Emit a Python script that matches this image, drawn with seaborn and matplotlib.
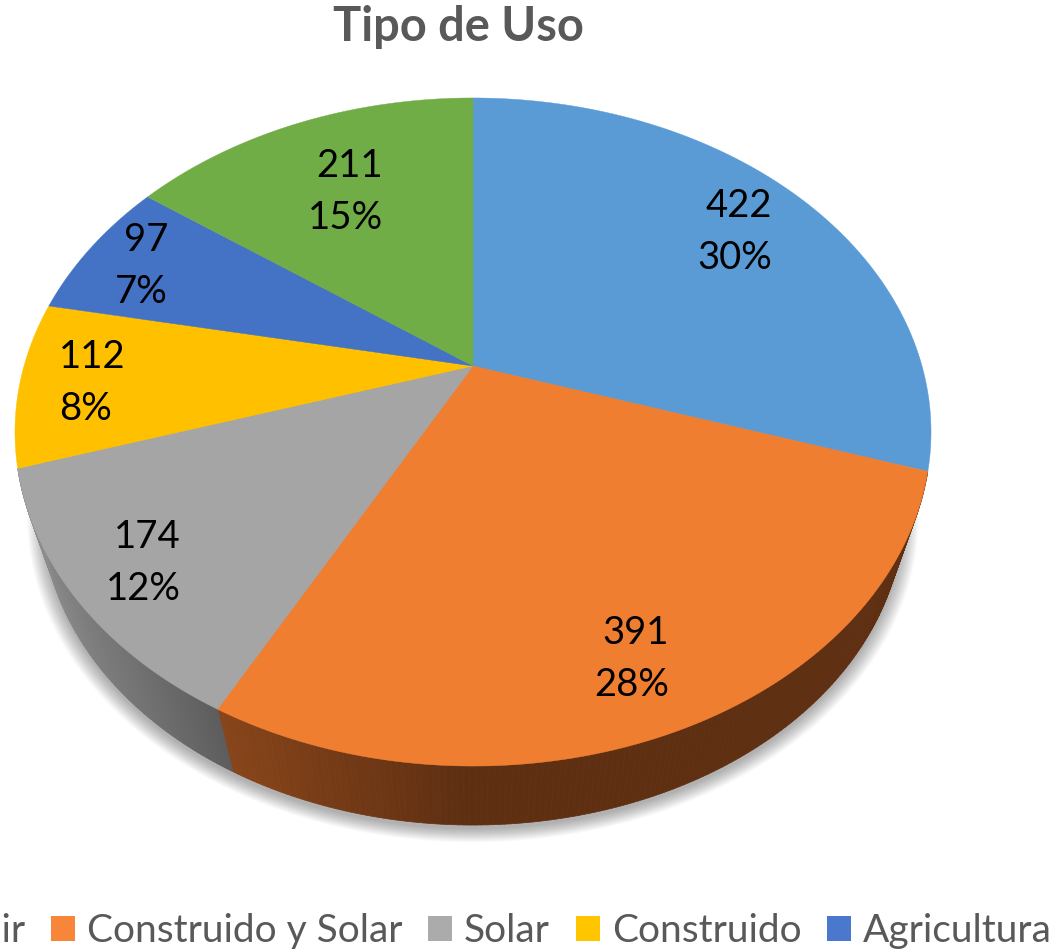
import numpy as np
import matplotlib
matplotlib.use('Agg')
import matplotlib.pyplot as plt
from matplotlib.collections import PolyCollection
from matplotlib.colors import to_rgb
from matplotlib.patches import Patch
import seaborn as sns

title = 'Tipo de Uso'
values = [422, 391, 174, 112, 97, 211]
colors = ['#5B9BD5', '#F07E30', '#A5A5A5', '#FFC000', '#4472C4', '#70AD47']
legend_labels = ['Construir', 'Construido y Solar', 'Solar', 'Construido', 'Agricultura']
legend_colors = ['#5B9BD5', '#F7853A', '#ABABAB', '#FFC600', '#4A78CC']

# anchor of each data label (pixels) and its alignment
label_pos = [(772, 232), (669, 659), (181, 563), (59, 383), (168, 266), (383, 192)]
label_ha = ['right', 'right', 'right', 'left', 'right', 'right']

# perspective of the disc, fitted on the picture
CX, CY = 473, 366
A, B, K = 449, 321, 0.1976
SHRINK, DROP = 0.94, 83


def top_rim(theta):
    u, v = np.cos(theta), np.sin(theta)
    d = 1 + K * v
    return CX + A * u / d, CY - B * v / d


def low_rim(theta, grow=1.0, dx=0, dy=0):
    x, y = top_rim(theta)
    s = SHRINK * grow
    return CX + (x - CX) * s + dx, CY + (y - CY) * s + DROP + dy


def mix(c1, c2, t):
    c1, c2 = np.array(to_rgb(c1)), np.array(to_rgb(c2))
    return tuple(c1 + (c2 - c1) * np.clip(t, 0, 1))


sns.set_theme(style='white')
plt.rcParams['font.family'] = ['Lato', 'DejaVu Sans']

fig = plt.figure(figsize=(10.55, 9.51), dpi=100)
ax = fig.add_axes([0, 0, 1, 1])
ax.set_xlim(0, 1055)
ax.set_ylim(951, 0)
ax.axis('off')

total = sum(values)
edges = np.pi / 2 - 2 * np.pi * np.cumsum([0] + values) / total
full = np.linspace(0, 2 * np.pi, 400)

# soft shadow under the disc
for g in np.linspace(1.035, 1.0, 14):
    x, y = low_rim(full, grow=g, dy=4)
    ax.fill(x, y, color='black', alpha=0.024, lw=0, zorder=1)

# side wall, only the orange and gray slices show it
quads, quad_colors = [], []
for i in (1, 2):
    th = np.linspace(edges[i], edges[i + 1], 160)
    for t0, t1 in zip(th[:-1], th[1:]):
        x0, y0 = top_rim(t0)
        x1, y1 = top_rim(t1)
        x2, y2 = low_rim(t1)
        x3, y3 = low_rim(t0)
        quads.append([(x0, y0), (x1, y1), (x2, y2), (x3, y3)])
        xm = (x2 + x3) / 2
        if i == 1:
            quad_colors.append(mix('#88451A', '#5F2F12', (xm - 233) / 230))
        else:
            quad_colors.append(mix('#8E8E8E', '#5C5C5C', (xm - 40) / 193))
ax.add_collection(PolyCollection(quads, facecolors=quad_colors, edgecolors=quad_colors, lw=0.5, zorder=2))

# top of the pie
for i, v in enumerate(values):
    th = np.linspace(edges[i], edges[i + 1], 200)
    x, y = top_rim(th)
    ax.fill(np.r_[CX, x], np.r_[CY, y], color=colors[i], lw=0.3, zorder=3)
    pct = round(v / total * 100)
    ax.text(label_pos[i][0], label_pos[i][1], f'{v}\n{pct}%', ha=label_ha[i], va='center',
            multialignment=label_ha[i], fontsize=27.5, color='black', linespacing=1.55, zorder=4)

ax.text(458, 27, title, ha='center', va='center', fontsize=33.8, fontweight='bold', color='#595959')

handles = [Patch(facecolor=c, edgecolor='none') for c in legend_colors]
ax.legend(handles, legend_labels, loc='center right', bbox_to_anchor=(1052, 931), bbox_transform=ax.transData,
          ncol=5, frameon=False, fontsize=28, labelcolor='#595959', handlelength=0.62, handleheight=0.62,
          handletextpad=0.3, columnspacing=0.67, borderpad=0, borderaxespad=0)

fig.savefig('out.png', dpi=100)
